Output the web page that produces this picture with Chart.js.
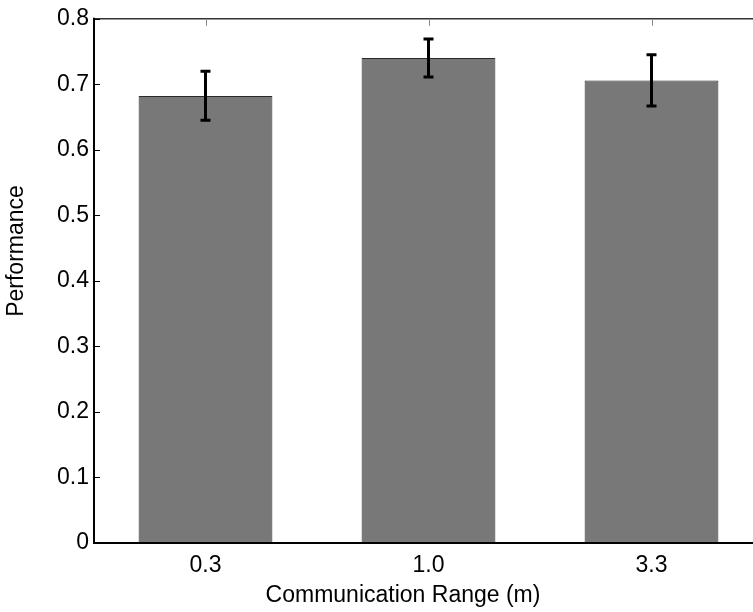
<!DOCTYPE html>
<html>
<head>
<meta charset="utf-8">
<script src="https://cdn.jsdelivr.net/npm/chart.js@4.4.1/dist/chart.umd.min.js"></script>
<style>
  html, body { margin: 0; padding: 0; background: #fff; overflow: hidden; }
  canvas { display: block; }
</style>
</head>
<body>
<canvas id="canvas" width="770" height="612"></canvas>
<script>
// Data
const categories = ['0.3', '1.0', '3.3'];
const performance = [0.682, 0.740, 0.706];
const errLow = [0.645, 0.711, 0.667];
const errHigh = [0.720, 0.769, 0.745];
const yTicks = ['0', '0.1', '0.2', '0.3', '0.4', '0.5', '0.6', '0.7', '0.8'];

const FONT = '"Liberation Sans", Arial, Helvetica, sans-serif';

// Matlab-style box, inward ticks, error bars and axis titles
const matlabAxes = {
  id: 'matlabAxes',
  afterDatasetsDraw(chart) {
    const ctx = chart.ctx;
    const { left, right, top, bottom } = chart.chartArea;
    const x = chart.scales.x, y = chart.scales.y;
    ctx.save();

    // error bars
    ctx.strokeStyle = '#000';
    ctx.lineWidth = 3;
    ctx.lineCap = 'butt';
    performance.forEach((v, i) => {
      const cx = x.getPixelForValue(i);
      const y1 = y.getPixelForValue(errHigh[i]);
      const y2 = y.getPixelForValue(errLow[i]);
      ctx.beginPath();
      ctx.moveTo(cx, y1); ctx.lineTo(cx, y2);
      ctx.moveTo(cx - 5, y1); ctx.lineTo(cx + 5, y1);
      ctx.moveTo(cx - 5, y2); ctx.lineTo(cx + 5, y2);
      ctx.stroke();
    });

    // top line + top ticks
    ctx.strokeStyle = '#333';
    ctx.lineWidth = 1.5;
    ctx.beginPath();
    ctx.moveTo(left, top); ctx.lineTo(right + 5, top);
    ctx.stroke();
    ctx.strokeStyle = '#888';
    ctx.lineWidth = 1;
    categories.forEach((c, i) => {
      const cx = Math.round(x.getPixelForValue(i)) + 0.5;
      ctx.beginPath();
      ctx.moveTo(cx, top); ctx.lineTo(cx, top + 7);
      ctx.stroke();
    });

    // y ticks pointing inward
    ctx.strokeStyle = '#000';
    ctx.lineWidth = 1;
    yTicks.forEach((t, i) => {
      const py = Math.round(y.getPixelForValue(i / 10)) + 0.5;
      ctx.beginPath();
      ctx.moveTo(left, py); ctx.lineTo(left + 6, py);
      ctx.stroke();
    });

    // left and bottom axis lines
    ctx.strokeStyle = '#000';
    ctx.lineWidth = 2;
    ctx.beginPath();
    ctx.moveTo(left, top - 1); ctx.lineTo(left, bottom);
    ctx.lineTo(right + 5, bottom);
    ctx.stroke();

    // axis titles
    ctx.fillStyle = '#000';
    ctx.font = '23px ' + FONT;
    ctx.textAlign = 'center';
    ctx.textBaseline = 'middle';
    ctx.fillText('Communication Range (m)', 403, 596);
    ctx.translate(17, 251);
    ctx.rotate(-Math.PI / 2);
    ctx.fillText('Performance', 0, 0);
    ctx.restore();
  }
};

new Chart(document.getElementById('canvas').getContext('2d'), {
  type: 'bar',
  data: {
    labels: categories,
    datasets: [{
      data: performance,
      backgroundColor: '#787878',
      borderColor: '#2a2a2a',
      borderWidth: 1,
      barPercentage: 0.6,
      categoryPercentage: 1.0
    }]
  },
  options: {
    responsive: false,
    animation: false,
    layout: { padding: { left: 0, top: 15, right: 7, bottom: 0 } },
    plugins: { legend: { display: false }, tooltip: { enabled: false } },
    scales: {
      x: {
        grid: { display: false, drawTicks: false },
        border: { display: false },
        ticks: { color: '#000', font: { family: FONT, size: 23 }, padding: 9, maxRotation: 0 },
        afterFit(scale) { scale.height = 69; }
      },
      y: {
        min: 0,
        max: 0.8,
        grid: { display: false, drawTicks: false },
        border: { display: false },
        ticks: {
          stepSize: 0.1,
          color: '#000',
          font: { family: FONT, size: 23 },
          padding: 5,
          callback: (v, i) => yTicks[i]
        },
        afterFit(scale) { scale.width = 94; }
      }
    }
  },
  plugins: [matlabAxes]
});
</script>
</body>
</html>
